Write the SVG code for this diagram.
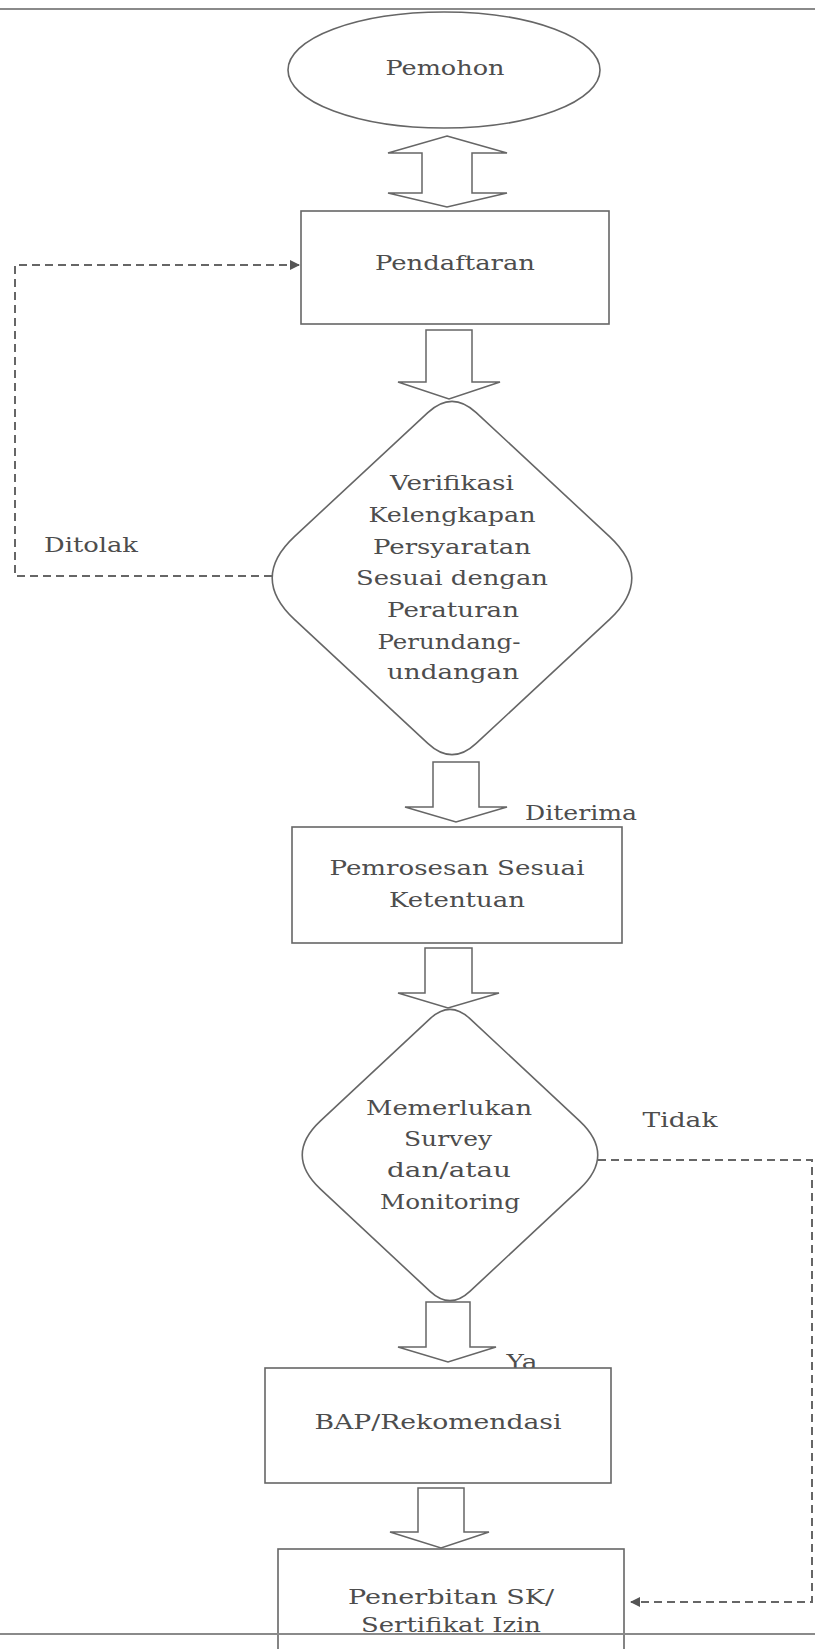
<svg xmlns="http://www.w3.org/2000/svg" width="815" height="1649" viewBox="0 0 815 1649">
<defs>
<style>
.bg{fill:#ffffff}
.shape{fill:#ffffff;stroke:#666;stroke-width:1.6}
.blk{fill:#ffffff;stroke:#666;stroke-width:1.5;stroke-linejoin:miter}
.dash{fill:none;stroke:#666;stroke-width:2;stroke-dasharray:8 5}
.rule{stroke:#8a8a8a;stroke-width:2}
.t{font-family:"DejaVu Serif","Liberation Serif",serif;font-size:21px;fill:#4d4d4d;text-anchor:middle}
.lbl{font-family:"DejaVu Serif","Liberation Serif",serif;font-size:21px;fill:#4d4d4d;text-anchor:middle}
</style>
<marker id="ah" viewBox="0 0 10 10" refX="9" refY="5" markerWidth="5" markerHeight="5" orient="auto">
<path d="M0,0 L10,5 L0,10 Z" fill="#555"/>
</marker>
</defs>
<rect class="bg" x="0" y="0" width="815" height="1649"/>
<line class="rule" x1="0" y1="9" x2="815" y2="9"/>

<g id="connectors">
<path class="blk" d="M447,136 L507,153 L472,153 L472,193 L507,193 L447,207 L388,193 L422,193 L422,153 L388,153 Z"/>
<path class="blk" d="M426,330 L472,330 L472,382 L500,382 L449,399 L398,382 L426,382 Z"/>
<path class="blk" d="M433,762 L479,762 L479,807 L507,807 L456,822 L405,807 L433,807 Z"/>
<path class="blk" d="M425,948 L472,948 L472,993 L499,993 L448,1008 L398,993 L425,993 Z"/>
<path class="blk" d="M426,1302 L470,1302 L470,1347 L496,1347 L448,1362 L398,1347 L426,1347 Z"/>
<path class="blk" d="M418,1488 L464,1488 L464,1532 L489,1532 L441,1548 L390,1532 L418,1532 Z"/>
<path class="dash" d="M272,576 L15,576 L15,265 L299,265" marker-end="url(#ah)"/>
<path class="dash" d="M598,1160 L812,1160 L812,1602 L631,1602" marker-end="url(#ah)"/>
<text class="lbl" x="91" y="552" textLength="94" lengthAdjust="spacingAndGlyphs">Ditolak</text>
<text class="lbl" x="581" y="820" textLength="112" lengthAdjust="spacingAndGlyphs">Diterima</text>
<text class="lbl" x="680" y="1127" textLength="75" lengthAdjust="spacingAndGlyphs">Tidak</text>
<text class="lbl" x="522" y="1369" textLength="31" lengthAdjust="spacingAndGlyphs">Ya</text>
</g>

<g id="pemohon">
<ellipse class="shape" cx="444" cy="70" rx="156" ry="58"/>
<text class="t" x="445" y="75" textLength="119" lengthAdjust="spacingAndGlyphs">Pemohon</text>
</g>

<g id="pendaftaran">
<rect class="shape" x="301" y="211" width="308" height="113"/>
<text class="t" x="455" y="270" textLength="160" lengthAdjust="spacingAndGlyphs">Pendaftaran</text>
</g>

<g id="verifikasi">
<path class="shape" d="M427.8,412.6 Q452,390 476.2,412.6 L609.6,536.6 Q654,578 609.6,619.4 L476.2,743.4 Q452,766 427.8,743.4 L294.4,619.4 Q250,578 294.4,536.6 Z"/>
<text class="t" x="452" y="490" textLength="124" lengthAdjust="spacingAndGlyphs">Verifikasi</text>
<text class="t" x="452" y="522" textLength="167" lengthAdjust="spacingAndGlyphs">Kelengkapan</text>
<text class="t" x="452" y="554" textLength="158" lengthAdjust="spacingAndGlyphs">Persyaratan</text>
<text class="t" x="452" y="585" textLength="192" lengthAdjust="spacingAndGlyphs">Sesuai dengan</text>
<text class="t" x="453" y="617" textLength="132" lengthAdjust="spacingAndGlyphs">Peraturan</text>
<text class="t" x="449" y="649" textLength="143" lengthAdjust="spacingAndGlyphs">Perundang-</text>
<text class="t" x="453" y="679" textLength="132" lengthAdjust="spacingAndGlyphs">undangan</text>
</g>

<g id="pemrosesan">
<rect class="shape" x="292" y="827" width="330" height="116"/>
<text class="t" x="457" y="875" textLength="255" lengthAdjust="spacingAndGlyphs">Pemrosesan Sesuai</text>
<text class="t" x="457" y="907" textLength="136" lengthAdjust="spacingAndGlyphs">Ketentuan</text>
</g>

<g id="survey">
<path class="shape" d="M430.1,1018.6 Q450,1000 469.9,1018.6 L579.5,1120.9 Q616,1155 579.5,1189.1 L469.9,1291.4 Q450,1310 430.1,1291.4 L320.5,1189.1 Q284,1155 320.5,1120.9 Z"/>
<text class="t" x="449" y="1115" textLength="166" lengthAdjust="spacingAndGlyphs">Memerlukan</text>
<text class="t" x="448" y="1146" textLength="88" lengthAdjust="spacingAndGlyphs">Survey</text>
<text class="t" x="449" y="1177" textLength="124" lengthAdjust="spacingAndGlyphs">dan/atau</text>
<text class="t" x="450" y="1209" textLength="140" lengthAdjust="spacingAndGlyphs">Monitoring</text>
</g>

<g id="bap">
<rect class="shape" x="265" y="1368" width="346" height="115"/>
<text class="t" x="438" y="1429" textLength="247" lengthAdjust="spacingAndGlyphs">BAP/Rekomendasi</text>
</g>

<g id="penerbitan">
<rect class="shape" x="278" y="1549" width="346" height="120"/>
<text class="t" x="451" y="1604" textLength="206" lengthAdjust="spacingAndGlyphs">Penerbitan SK/</text>
<text class="t" x="451" y="1632" textLength="180" lengthAdjust="spacingAndGlyphs">Sertifikat Izin</text>
</g>

<line class="rule" x1="0" y1="1634" x2="815" y2="1634"/>
</svg>
